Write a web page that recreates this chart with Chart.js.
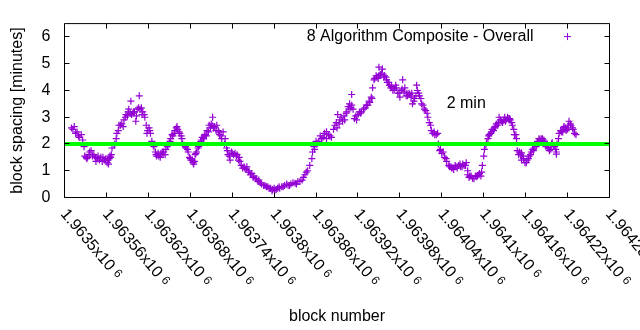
<!DOCTYPE html>
<html><head><meta charset="utf-8">
<script src="https://cdn.jsdelivr.net/npm/chart.js@4.4.1/dist/chart.umd.min.js"></script>
<style>html,body{margin:0;padding:0;background:#fff}#wrap{width:640px;height:330px}</style>
</head><body><div id="wrap"><canvas id="c" width="640" height="330"></canvas></div>
<script>
// ---- data ----
const baseBlock = 1963500;
const blockOffsets = [
  10,14,18,21,24,28,31,32,35,38,
  42,47,50,52,57,61,64,67,68,71,
  74,75,78,82,85,88,91,92,95,98,
  100,102,104,107,110,112,114,117,118,121,
  122,125,128,131,132,135,138,141,142,145,
  147,150,152,155,157,160,161,164,167,168,
  171,174,177,180,181,184,185,187,188,191,
  192,195,197,200,201,204,207,210,211,212,
  215,218,221,222,225,227,230,232,234,237,
  240,244,247,250,251,255,258,261,264,268,
  271,275,278,282,287,291,295,298,301,305,
  308,311,315,320,324,330,334,340,344,348,
  351,354,355,358,361,364,368,372,375,380,
  382,387,390,391,394,398,401,404,407,408,
  411,415,420,422,425,430,432,437,440,441,
  444,447,450,452,455,458,461,462,465,468,
  472,475,477,480,482,484,487,490,491,494,
  497,498,501,504,505,508,511,515,520,522,
  525,527,530,532,535,537,540,544,547,551,
  554,557,560,564,567,570,572,575,577,580,
  584,588,591,594,597,598,600,601,604,607,
  608,611,612,615,618,621,622,625,628,630,
  632,635,637,640,641,644,647,648,651,654,
  657,661,664,665,668,670,672,675,680,682,
  684,687,690,692,694,697,698,701,704,705,
  708,711,714,715,718,720,722,725,727,730,
  732,
  411,450,375,704,654,577,
  12,16,20,26,29,33,36,40,44,45,48,54,55,59,62,63,65,66,
  72,77,80,84,87,90,94,96,99,103,106,108,111,115,119,123,
  127,130,134,137,140,144,148,151,154,158,162,165,169,
  173,176,179,183,186,189,193,196,199,203,206,209,213,217,
  220,224,229,233,236,239,242,246,249,253,257,260,263,266,270,
  273,277,280,285,289,293,297,300,303,307,313,318,322,327,332,337,342,346,
  357,360,363,366,370,378,385,389,393,396,400,403,406,410,
  413,417,418,424,428,434,436,439,443,446,449,454,457,460,464,467,
  470,474,479,483,486,489,493,496,500,503,507,510,513,517,519,524,529,534,538,542,
  546,550,553,556,559,562,566,569,574,579,582,586,590,593,596,603,606,
  610,614,617,620,624,627,631,634,638,643,646,650,653,656,659,662,
  667,671,677,679,683,686,689,693,696,700,703,707,710,713,717,721,724,728
];
const spacingMinutes = [
  2.6,2.65,2.45,2.25,2.35,1.9,1.5,1.45,1.6,1.75,
  1.6,1.45,1.4,1.5,1.4,1.3,1.45,1.6,1.85,1.95,
  2.2,2.4,2.7,2.75,2.9,3.1,3.2,3.3,3.6,3.15,
  3.2,2.85,3.3,3.8,3.35,3.2,3.1,2.7,2.4,2.6,
  2.5,2.1,1.9,1.6,1.55,1.55,1.65,1.6,1.7,1.8,
  1.9,2.05,2.2,2.3,2.4,2.6,2.65,2.45,2.3,2.2,
  1.95,1.85,1.7,1.45,1.4,1.3,1.25,1.6,1.65,1.85,
  1.9,2.1,2.25,2.3,2.35,2.5,2.7,2.75,2.7,3.0,
  2.65,2.7,2.45,2.35,2.2,2.45,2.2,1.85,1.6,1.4,
  1.65,1.65,1.6,1.5,1.35,1.1,1.1,1.15,1.0,0.9,
  0.8,0.7,0.65,0.5,0.45,0.4,0.35,0.3,0.27,0.35,
  0.35,0.4,0.45,0.46,0.5,0.53,0.6,0.65,0.85,1.0,
  1.2,1.45,1.7,1.8,2.0,2.1,2.2,2.4,2.2,2.3,
  2.25,2.7,2.6,3.1,2.9,2.85,2.9,3.2,3.3,3.5,
  3.45,2.95,3.1,3.2,3.2,3.35,3.45,3.55,3.7,4.1,
  4.45,4.5,4.55,4.6,4.8,4.55,4.4,4.3,4.2,4.15,
  4.05,4.1,3.9,3.75,4.0,4.4,4.1,3.9,3.8,3.85,
  3.9,3.5,3.7,4.2,4.0,3.8,3.5,3.3,3.0,2.8,
  2.5,2.4,2.35,2.35,2.0,1.75,1.65,1.5,1.35,1.15,
  1.1,1.05,1.15,1.2,1.15,1.25,1.2,1.3,0.85,0.8,
  0.72,0.8,0.82,0.9,0.95,1.2,1.55,1.8,2.05,2.3,
  2.35,2.45,2.55,2.6,2.75,2.8,3.0,2.85,2.9,3.0,
  2.9,2.95,2.95,2.8,2.7,2.35,2.2,1.75,1.7,1.4,
  1.45,1.3,1.45,1.55,1.7,1.8,1.85,1.9,2.15,2.2,
  2.2,2.1,1.95,1.85,1.75,2.0,2.05,1.9,1.7,2.0,
  2.4,2.45,2.6,2.65,2.5,2.55,2.85,2.7,2.6,2.4,
  2.35,
  3.85,4.87,2.46,1.62,1.67,1.0,
  2.55,2.4,2.3,2.15,1.55,1.5,1.7,1.55,1.5,1.35,1.55,1.35,1.5,1.45,1.4,1.25,1.55,1.5,
  2.0,2.5,2.7,2.65,3.0,3.05,3.15,3.1,3.2,3.05,3.35,3.3,3.1,3.0,2.5,2.4,
  1.95,1.7,1.65,1.5,1.7,1.6,1.95,2.1,2.35,2.5,2.55,2.4,2.0,
  1.9,1.8,1.5,1.4,1.35,1.7,1.95,2.15,2.2,2.3,2.45,2.6,2.6,2.5,
  2.5,2.3,2.0,1.75,1.55,1.7,1.6,1.55,1.4,1.2,1.15,1.05,0.95,0.85,0.75,
  0.7,0.6,0.55,0.45,0.4,0.35,0.25,0.35,0.3,0.4,0.4,0.5,0.45,0.55,0.5,0.6,0.75,0.95,
  1.9,2.1,2.05,2.3,2.25,2.35,2.55,2.8,2.75,3.0,3.05,3.15,3.4,3.35,
  3.3,3.05,2.9,3.15,3.3,3.45,3.6,3.75,4.4,4.55,4.45,4.65,4.5,4.5,4.3,4.1,
  4.0,4.2,3.9,4.05,3.95,3.8,3.9,3.75,3.6,3.8,3.9,3.7,3.45,3.25,3.15,2.7,2.45,2.4,1.8,1.7,
  1.45,1.2,1.15,1.1,1.2,1.1,1.25,1.15,1.2,0.75,0.8,0.7,0.78,0.85,0.8,1.95,2.2,
  2.4,2.5,2.65,2.7,2.9,2.8,2.85,3.0,2.9,2.55,2.35,1.6,1.6,1.55,1.3,1.4,
  1.6,1.75,2.1,2.2,2.15,2.15,1.9,1.85,1.8,1.95,1.8,2.2,2.5,2.45,2.6,2.7,2.75,2.55
];
const xMin = 1963500, xMax = 1964280;
const xTickValues = [1963500,1963560,1963620,1963680,1963740,1963800,1963860,1963920,1963980,1964040,1964100,1964160,1964220,1964280];
const xTickLabels = ["1.9635","1.96356","1.96362","1.96368","1.96374","1.9638","1.96386","1.96392","1.96398","1.96404","1.9641","1.96416","1.96422","1.96428"];
const xTickExponent = "6";
const yMin = 0, yMax = 6.5;
const yTickValues = [0,1,2,3,4,5,6];
const targetMinutes = 2;
const seriesName = "8 Algorithm Composite - Overall";
const targetText = "2 min";
const targetTextBlock = 1964047;
const targetTextValue = 3.5;

// ---- chart ----
const FONT = "'Liberation Sans', Arial, sans-serif";
const PURPLE = '#9400d3';
const points = blockOffsets.map((o, i) => ({x: baseBlock + o, y: spacingMinutes[i]}));
const LABEL_ANGLE = 50 * Math.PI / 180;

const gnuplotDecor = {
  id: 'gnuplotDecor',
  afterDatasetsDraw(chart) {
    const {ctx, chartArea: a, scales: {x, y}} = chart;
    const snap = v => Math.round(v - 0.5) + 0.5;
    ctx.save();
    ctx.strokeStyle = '#000';
    ctx.lineWidth = 1;
    ctx.beginPath();
    ctx.rect(a.left, a.top, a.right - a.left, a.bottom - a.top);
    const T = 5;
    xTickValues.forEach(v => {
      const px = snap(x.getPixelForValue(v));
      ctx.moveTo(px, a.bottom); ctx.lineTo(px, a.bottom - T);
      ctx.moveTo(px, a.top); ctx.lineTo(px, a.top + T);
    });
    yTickValues.forEach(v => {
      const py = snap(y.getPixelForValue(v));
      ctx.moveTo(a.left, py); ctx.lineTo(a.left + T, py);
      ctx.moveTo(a.right, py); ctx.lineTo(a.right - T, py);
    });
    ctx.stroke();

    // rotated x tick labels
    ctx.fillStyle = '#000';
    xTickValues.forEach((v, i) => {
      const px = x.getPixelForValue(v);
      ctx.save();
      ctx.translate(px - 1, a.bottom + 14);
      ctx.rotate(LABEL_ANGLE);
      ctx.font = '16px ' + FONT;
      ctx.textAlign = 'left';
      ctx.textBaseline = 'middle';
      const main = xTickLabels[i] + 'x10';
      ctx.fillText(main, 0, 0);
      const w = ctx.measureText(main + ' ').width;
      ctx.font = '12px ' + FONT;
      ctx.fillText(xTickExponent, w, -1.5);
      ctx.restore();
    });

    // key
    ctx.font = '16px ' + FONT;
    ctx.textAlign = 'right';
    ctx.textBaseline = 'middle';
    ctx.fillText(seriesName, a.right - 76, a.top + 12.5);
    const kx = a.right - 42, ky = a.top + 13;
    ctx.strokeStyle = PURPLE;
    ctx.beginPath();
    ctx.moveTo(kx - 3.5, ky); ctx.lineTo(kx + 3.5, ky);
    ctx.moveTo(kx, ky - 3.5); ctx.lineTo(kx, ky + 3.5);
    ctx.stroke();

    // label
    ctx.textAlign = 'left';
    ctx.fillStyle = '#000';
    ctx.fillText(targetText, x.getPixelForValue(targetTextBlock), y.getPixelForValue(targetTextValue));
    ctx.restore();
  }
};

new Chart(document.getElementById('c'), {
  type: 'scatter',
  data: {
    datasets: [
      {
        type: 'line',
        label: targetText,
        data: [{x: xMin, y: targetMinutes}, {x: xMax, y: targetMinutes}],
        borderColor: '#00ff00',
        backgroundColor: '#00ff00',
        borderWidth: 4,
        pointRadius: 0,
        fill: false,
        order: 0
      },
      {
        label: seriesName,
        data: points,
        pointStyle: 'cross',
        pointRadius: 3.5,
        pointHoverRadius: 3.5,
        borderColor: PURPLE,
        backgroundColor: PURPLE,
        borderWidth: 1.2,
        showLine: false,
        order: 1
      }
    ]
  },
  options: {
    responsive: false,
    animation: false,
    devicePixelRatio: 1,
    events: [],
    layout: {padding: {top: 19.5, right: 30.5, left: 0, bottom: 0}},
    plugins: {legend: {display: false}, tooltip: {enabled: false}},
    scales: {
      x: {
        type: 'linear', min: xMin, max: xMax,
        ticks: {display: false},
        grid: {display: false, drawTicks: false},
        border: {display: false},
        title: {display: true, text: 'block number', color: '#000', font: {family: FONT, size: 16}, padding: {top: 0, bottom: 4}},
        afterFit: s => { s.height = 132.5; }
      },
      y: {
        type: 'linear', min: yMin, max: yMax,
        afterBuildTicks: s => { s.ticks = yTickValues.map(v => ({value: v})); },
        ticks: {color: '#000', font: {family: FONT, size: 16}, padding: 14},
        grid: {display: false, drawTicks: false},
        border: {display: false},
        title: {display: true, text: 'block spacing [minutes]', color: '#000', font: {family: FONT, size: 16}, padding: {top: 8, bottom: 0}},
        afterFit: s => { s.width = 64.5; }
      }
    }
  },
  plugins: [gnuplotDecor]
});
</script>
</body></html>
